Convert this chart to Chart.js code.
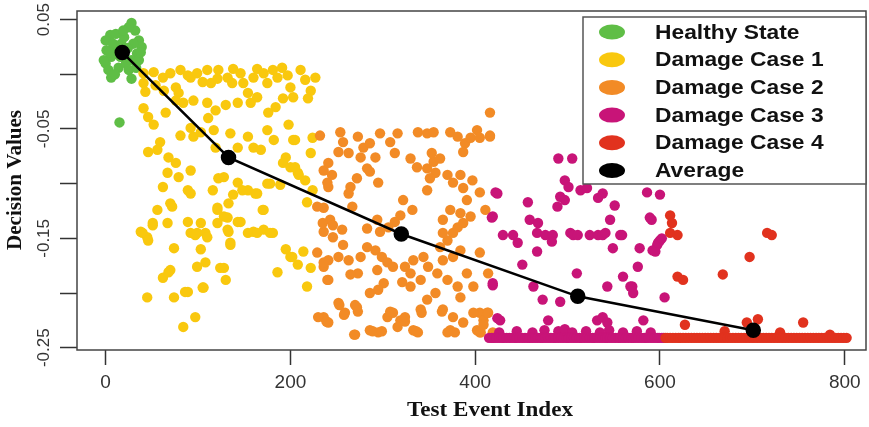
<!DOCTYPE html>
<html>
<head>
<meta charset="utf-8">
<script src="https://cdn.jsdelivr.net/npm/chart.js@4.4.1/dist/chart.umd.min.js"></script>
<style>
  html, body { margin: 0; padding: 0; background: #fff; }
</style>
</head>
<body>
<canvas id="chart" width="869" height="427"></canvas>
<script>
// axis ticks
const xTickValues = [0, 200, 400, 600, 800];
const yTickValues = [0.05, 0, -0.05, -0.1, -0.15, -0.2, -0.25];
const yLabelValues = [0.05, -0.05, -0.15, -0.25];
const yLabelText = ["0.05", "-0.05", "-0.15", "-0.25"];

const seriesNames = ["Healthy State", "Damage Case 1", "Damage Case 2", "Damage Case 3", "Damage Case 4", "Average"];

// [test event index, decision value]
const healthyPts = [
  [28,0.047],[32,0.040],[25,0.043],[5,0.036],[11,0.037],[0,0.031],[36,0.031],[39,0.025],
  [34,0.019],[1,0.022],[6,0.016],[0,0.010],[3,0.004],[14,0.006],[22,0.010],[28,0.013],
  [17,0.028],[12,0.022],[25,0.004],[28,-0.004],[6,-0.003],[-2,0.013],[36,0.013],[16,0.016],
  [20,0.034],[30,0.028],[8,0.028],[24,0.024],[33,0.006],[10,0.000],[4,0.020],[38,0.020],
  [19,0.040],[15,-0.044]
];

const damage1Pts = [
  [41,0.001],[52,0.002],[62,-0.003],[70,0.001],[81,0.004],[89,-0.001],[41,-0.008],[43,-0.016],
  [54,-0.010],[63,-0.015],[76,-0.012],[79,-0.017],[92,-0.003],[99,0.001],[105,-0.007],[110,0.004],
  [114,-0.008],[121,-0.004],[122,0.004],[132,-0.003],[137,-0.008],[138,0.005],[146,0.001],[149,-0.008],
  [154,-0.017],[160,-0.003],[164,0.005],[171,0.001],[175,-0.008],[181,0.004],[186,-0.003],[191,0.006],
  [197,-0.001],[200,-0.012],[203,-0.021],[211,0.004],[216,-0.005],[222,-0.015],[227,-0.003],[219,-0.022],
  [192,-0.022],[184,-0.030],[164,-0.021],[157,-0.026],[143,-0.026],[130,-0.028],[119,-0.033],[111,-0.040],
  [110,-0.026],[95,-0.024],[84,-0.026],[76,-0.024],[65,-0.035],[41,-0.031],[46,-0.039],[52,-0.046],
  [59,-0.062],[46,-0.071],[56,-0.069],[68,-0.076],[76,-0.081],[81,-0.056],[92,-0.049],[95,-0.057],
  [103,-0.053],[117,-0.051],[119,-0.067],[135,-0.054],[143,-0.067],[154,-0.057],[160,-0.067],[168,-0.069],
  [175,-0.051],[182,-0.060],[195,-0.076],[192,-0.081],[200,-0.085],[203,-0.060],[222,-0.072],[224,-0.058],
  [208,-0.090],[216,-0.097],[218,-0.117],[224,-0.106],[67,-0.090],[79,-0.094],[92,-0.088],[62,-0.103],
  [70,-0.118],[56,-0.124],[89,-0.106],[92,-0.109],[116,-0.106],[122,-0.095],[128,-0.094],[143,-0.099],
  [154,-0.106],[164,-0.109],[178,-0.100],[189,-0.101],[138,-0.110],[133,-0.118],[121,-0.124],[132,-0.131],
  [133,-0.144],[135,-0.154],[121,-0.136],[146,-0.135],[154,-0.145],[160,-0.144],[171,-0.142],[181,-0.145],
  [170,-0.124],[89,-0.135],[103,-0.136],[108,-0.145],[110,-0.149],[92,-0.145],[97,-0.147],[67,-0.136],
  [51,-0.136],[38,-0.144],[45,-0.149],[74,-0.159],[103,-0.160],[108,-0.172],[99,-0.176],[128,-0.177],
  [130,-0.188],[70,-0.179],[62,-0.186],[45,-0.204],[74,-0.204],[89,-0.199],[106,-0.195],[186,-0.181],
  [195,-0.160],[200,-0.167],[208,-0.174],[214,-0.162],[222,-0.177],[218,-0.194],[40,-0.145],[46,-0.152],
  [51,-0.138],[72,-0.121],[99,-0.145],[105,-0.195],[86,-0.199],[68,-0.181],[97,-0.222],[84,-0.231],
  [121,-0.122],[128,-0.130],[132,-0.142],[135,-0.156],[124,-0.177],[143,-0.135],[164,-0.145],[171,-0.124],
  [178,-0.145],[148,-0.106],[162,-0.109],[175,-0.100],[176,-0.035],[198,-0.046],[205,-0.060],[205,-0.085],
  [209,-0.092],[202,-0.167]
];

const damage2Pts = [
  [416,-0.035],[232,-0.056],[254,-0.053],[257,-0.062],[252,-0.071],[263,-0.072],[273,-0.057],[279,-0.067],
  [286,-0.063],[297,-0.054],[308,-0.062],[316,-0.054],[313,-0.072],[292,-0.076],[283,-0.086],[276,-0.076],
  [236,-0.088],[241,-0.081],[245,-0.092],[272,-0.095],[265,-0.103],[263,-0.109],[241,-0.103],[295,-0.099],
  [286,-0.089],[338,-0.053],[348,-0.054],[355,-0.053],[373,-0.053],[381,-0.057],[389,-0.063],[395,-0.058],
  [402,-0.051],[405,-0.058],[416,-0.056],[387,-0.071],[330,-0.077],[337,-0.085],[348,-0.086],[355,-0.080],
  [357,-0.090],[370,-0.092],[384,-0.092],[351,-0.095],[348,-0.106],[322,-0.115],[332,-0.124],[319,-0.129],
  [313,-0.135],[306,-0.140],[294,-0.133],[297,-0.144],[283,-0.141],[267,-0.121],[236,-0.122],[243,-0.133],
  [246,-0.138],[236,-0.144],[246,-0.149],[256,-0.142],[257,-0.156],[229,-0.163],[241,-0.170],[236,-0.176],
  [252,-0.167],[263,-0.170],[276,-0.167],[283,-0.158],[292,-0.161],[299,-0.167],[305,-0.172],[311,-0.176],
  [324,-0.176],[330,-0.182],[333,-0.170],[344,-0.167],[349,-0.176],[341,-0.188],[330,-0.194],[321,-0.190],
  [301,-0.191],[295,-0.197],[286,-0.200],[294,-0.179],[273,-0.182],[265,-0.183],[241,-0.188],[252,-0.209],
  [270,-0.211],[273,-0.217],[259,-0.218],[236,-0.222],[241,-0.227],[270,-0.238],[286,-0.234],[295,-0.236],
  [305,-0.222],[311,-0.218],[319,-0.225],[316,-0.231],[324,-0.226],[333,-0.234],[341,-0.215],[348,-0.206],
  [357,-0.200],[365,-0.215],[376,-0.222],[387,-0.227],[373,-0.234],[384,-0.204],[398,-0.194],[405,-0.218],
  [409,-0.225],[402,-0.234],[359,-0.182],[370,-0.188],[381,-0.194],[391,-0.182],[365,-0.170],[362,-0.158],
  [370,-0.152],[365,-0.145],[376,-0.145],[381,-0.140],[387,-0.136],[384,-0.127],[395,-0.130],[391,-0.115],
  [373,-0.124],[365,-0.133],[405,-0.163],[414,-0.182],[384,-0.161],[376,-0.167],[405,-0.108],[397,-0.097],
  [387,-0.104],[376,-0.099],[362,-0.077],[353,-0.072],[411,-0.124],[416,-0.057],[413,-0.218],[405,-0.236],
  [324,-0.222],[338,-0.236],[240,-0.099],[229,-0.121],[235,-0.136],[236,-0.172],[240,-0.188],[269,-0.238],
  [289,-0.235],[299,-0.235],[336,-0.235],[370,-0.236],[378,-0.236],[406,-0.236],[409,-0.229],[398,-0.218],
  [414,-0.218],[230,-0.222],[239,-0.226],[258,-0.220],[253,-0.211],[272,-0.213],[308,-0.217],[342,-0.218],
  [364,-0.217],[419,-0.236]
];

const damage3Pts = [
  [490,-0.077],[505,-0.077],[497,-0.097],[501,-0.103],[514,-0.106],[521,-0.104],[424,-0.109],[457,-0.117],
  [492,-0.112],[497,-0.115],[489,-0.121],[533,-0.113],[538,-0.109],[551,-0.120],[586,-0.108],[600,-0.110],
  [418,-0.131],[459,-0.133],[468,-0.136],[546,-0.133],[591,-0.133],[430,-0.147],[441,-0.147],[446,-0.154],
  [467,-0.145],[476,-0.147],[484,-0.147],[483,-0.153],[503,-0.145],[506,-0.147],[511,-0.147],[524,-0.147],
  [533,-0.147],[538,-0.147],[559,-0.147],[600,-0.152],[597,-0.156],[592,-0.161],[467,-0.162],[549,-0.159],
  [578,-0.159],[451,-0.174],[576,-0.176],[510,-0.182],[560,-0.185],[419,-0.193],[463,-0.194],[543,-0.194],
  [570,-0.194],[571,-0.200],[473,-0.206],[492,-0.208],[605,-0.204],[427,-0.225],[479,-0.225],[532,-0.225],
  [538,-0.222],[543,-0.227],[582,-0.225],[541,-0.145],[557,-0.147],[595,-0.162],[598,-0.154],[602,-0.150],
  [589,-0.131],[568,-0.194],[422,-0.108],[419,-0.130],[419,-0.191],[424,-0.223],
  [426,-0.236],[445,-0.235],[462,-0.236],[475,-0.234],[490,-0.235],[497,-0.233],[505,-0.236],[520,-0.235],
  [535,-0.236],[545,-0.234],[560,-0.236],[575,-0.235],[590,-0.236]
];
// dense row of damage case 3 events along the floor
const damage3RowX = [
  415,418,420,423,426,429,431,434,437,440,443,445,448,451,454,457,459,462,465,468,471,473,476,479,
  482,485,487,490,493,496,499,501,504,507,510,513,515,518,521,524,527,529,532,535,538,541,543,546,
  549,552,555,557,560,563,566,569,571,574,577,580,583,585,588,591,594,597,599,602,604
];

const damage4Pts = [
  [611,-0.129],[613,-0.136],[611,-0.145],[619,-0.147],[716,-0.145],[721,-0.147],[697,-0.167],[668,-0.183],
  [619,-0.185],[625,-0.188],[627,-0.229],[670,-0.235],[694,-0.227],[706,-0.224],[755,-0.227],[730,-0.236],
  [784,-0.238]
];
const damage4RowX = [
  606,608,611,614,617,620,622,625,628,631,634,637,640,643,646,649,652,655,658,661,664,667,670,673,
  676,679,682,685,688,691,694,697,700,703,706,709,712,715,718,721,724,727,730,733,736,739,742,745,
  748,751,754,757,760,763,766,769,772,775,778,781,784,787,790,793,796,799,802
];
const floorValue = -0.241;

const averageX = [18, 133, 320, 511, 701];
const averageY = [0.020, -0.076, -0.146, -0.203, -0.234];

const colors = ["#5fbe46", "#f9c80e", "#f28b26", "#c81478", "#e1321e", "#000000"];

const toXY = pts => pts.map(p => ({ x: p[0], y: p[1] }));
const rowXY = xs => xs.map(x => ({ x: x, y: floorValue }));

function pointSet(i, data, order) {
  return {
    label: seriesNames[i],
    data: data,
    backgroundColor: colors[i],
    borderWidth: 0,
    pointRadius: 5.2,
    pointHoverRadius: 5.2,
    order: order
  };
}

const frame = {
  id: "frame",
  afterDraw(chart) {
    const { ctx, chartArea: a, scales: { y } } = chart;
    ctx.save();

    ctx.strokeStyle = "#444";
    ctx.lineWidth = 1.5;
    ctx.strokeRect(a.left, a.top, a.right - a.left, a.bottom - a.top);

    // rotated y tick labels
    ctx.fillStyle = "#333";
    ctx.font = '17px "Liberation Sans", Arial, sans-serif';
    ctx.textAlign = "center";
    ctx.textBaseline = "middle";
    yLabelValues.forEach((v, i) => {
      ctx.save();
      ctx.translate(44, y.getPixelForValue(v));
      ctx.rotate(-Math.PI / 2);
      ctx.fillText(yLabelText[i], 0, 0);
      ctx.restore();
    });

    // axis titles
    ctx.fillStyle = "#111";
    ctx.font = 'bold 21px "Liberation Serif", "Times New Roman", serif';
    ctx.save();
    ctx.translate(490, 411);
    ctx.scale(1.1, 1);
    ctx.fillText("Test Event Index", 0, 0);
    ctx.restore();
    ctx.save();
    ctx.translate(16, 180);
    ctx.rotate(-Math.PI / 2);
    ctx.fillText("Decision Values", 0, 0);
    ctx.restore();

    // legend
    const lx = 583, ly = 17, lw = 283, lh = 167;
    ctx.fillStyle = "#fff";
    ctx.fillRect(lx, ly, lw, lh);
    ctx.strokeStyle = "#555";
    ctx.lineWidth = 1.5;
    ctx.strokeRect(lx, ly, lw, lh);
    ctx.font = 'bold 20px "Liberation Sans", Arial, sans-serif';
    ctx.textAlign = "left";
    seriesNames.forEach((name, i) => {
      const cy = 32 + i * 27.7;
      ctx.fillStyle = colors[i];
      ctx.beginPath();
      ctx.ellipse(612, cy, 13, 7.5, 0, 0, Math.PI * 2);
      ctx.fill();
      ctx.fillStyle = "#111";
      ctx.save();
      ctx.translate(655, cy + 1);
      ctx.scale(1.14, 1);
      ctx.fillText(name, 0, 0);
      ctx.restore();
    });

    ctx.restore();
  }
};

new Chart(document.getElementById("chart"), {
  type: "scatter",
  data: {
    datasets: [
      pointSet(0, toXY(healthyPts), 5),
      pointSet(1, toXY(damage1Pts), 4),
      pointSet(2, toXY(damage2Pts), 3),
      pointSet(3, toXY(damage3Pts).concat(rowXY(damage3RowX)), 2),
      pointSet(4, toXY(damage4Pts).concat(rowXY(damage4RowX)), 1),
      {
        label: seriesNames[5],
        data: averageX.map((x, i) => ({ x: x, y: averageY[i] })),
        showLine: true,
        borderColor: "#000",
        borderWidth: 2.5,
        backgroundColor: "#000",
        pointRadius: 6.5,
        pointHoverRadius: 6.5,
        order: 0
      }
    ]
  },
  options: {
    responsive: false,
    animation: false,
    events: [],
    layout: { autoPadding: false, padding: { top: 11, right: 3, left: 0, bottom: 0 } },
    plugins: { legend: { display: false }, tooltip: { enabled: false } },
    scales: {
      x: {
        type: "linear",
        min: -31,
        max: 823,
        afterBuildTicks: s => { s.ticks = xTickValues.map(v => ({ value: v })); },
        afterFit: s => { s.height = 77; s.paddingLeft = 0; s.paddingRight = 0; },
        border: { display: false },
        grid: { drawOnChartArea: false, drawTicks: true, tickLength: 15, tickColor: "#333", tickWidth: 1.5 },
        ticks: {
          autoSkip: false, maxRotation: 0, minRotation: 0, padding: 6,
          color: "#333", font: { family: '"Liberation Sans", Arial, sans-serif', size: 19 },
          callback: v => String(v)
        }
      },
      y: {
        type: "linear",
        min: -0.2521,
        max: 0.0579,
        afterBuildTicks: s => { s.ticks = yTickValues.map(v => ({ value: v })); },
        afterFit: s => { s.width = 77; s.paddingTop = 0; s.paddingBottom = 0; },
        border: { display: false },
        grid: { drawOnChartArea: false, drawTicks: true, tickLength: 17, tickColor: "#333", tickWidth: 1.5 },
        ticks: { display: false }
      }
    }
  },
  plugins: [frame]
});
</script>
</body>
</html>
